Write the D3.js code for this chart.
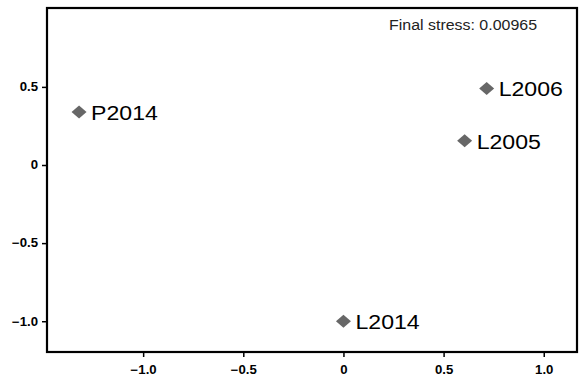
<!DOCTYPE html>
<html lang="en">
<head>
<meta charset="utf-8">
<title>NMDS</title>
<script src="https://cdn.jsdelivr.net/npm/d3@7"></script>
<style>
  body { margin: 0; background: #fff; }
  text { font-family: "Liberation Sans", Arial, sans-serif; }
</style>
</head>
<body>
<script>
// samples and their ordination coordinates
var labels = ["P2014", "L2006", "L2005", "L2014"];
var xVals = [-1.32, 0.715, 0.605, 0.0];
var yVals = [0.34, 0.49, 0.155, -1.0];
var xTicks = [-1.0, -0.5, 0, 0.5, 1.0];
var yTicks = [-1.0, -0.5, 0, 0.5];
var stressText = "Final stress: 0.00965";

var margin = { top: 8, right: 2, bottom: 28, left: 47 },
    width = 579 - margin.left - margin.right,
    height = 380 - margin.top - margin.bottom;

var x = d3.scaleLinear().domain([-1.48, 1.166]).range([0, width]);
var y = d3.scaleLinear().domain([-1.197, 1.005]).range([height, 0]);

// text in the original is a bit wider than the font
var stretch = 1.1;

var svg = d3.select("body").append("svg")
    .attr("width", 579).attr("height", 380)
  .append("g")
    .attr("transform", "translate(" + margin.left + "," + margin.top + ")");

function fmt(d) { return d === 0 ? "0" : d3.format(".1f")(d); }

var xAxis = svg.append("g")
    .attr("transform", "translate(0," + height + ")")
    .call(d3.axisBottom(x).tickValues(xTicks).tickFormat(fmt).tickSize(5).tickSizeOuter(0));
var yAxis = svg.append("g")
    .call(d3.axisLeft(y).tickValues(yTicks).tickFormat(fmt).tickSize(5).tickSizeOuter(0));

[xAxis, yAxis].forEach(function(a) {
  a.select(".domain").remove();
  a.selectAll(".tick line").attr("stroke", "#000").attr("stroke-width", 1.5);
  a.selectAll(".tick text")
    .style("font-family", "'Liberation Sans', Arial, sans-serif")
    .style("font-size", "12px").style("font-weight", "bold").attr("fill", "#000");
});
xAxis.selectAll(".tick text")
    .attr("y", null).attr("dy", null)
    .attr("transform", "translate(0,22) scale(" + stretch + ",1)");
yAxis.selectAll(".tick text")
    .attr("x", null)
    .attr("transform", "translate(-9,0) scale(" + stretch + ",1)");

// frame
svg.append("rect")
    .attr("width", width).attr("height", height)
    .attr("fill", "none").attr("stroke", "#000").attr("stroke-width", 2.2);

var pts = labels.map(function(d, i) { return { label: d, x: xVals[i], y: yVals[i] }; });

svg.selectAll(".pt")
  .data(pts).enter().append("path")
    .attr("class", "pt")
    .attr("d", "M0,-6.5L7.5,0L0,6.5L-7.5,0Z")
    .attr("transform", function(d) { return "translate(" + x(d.x) + "," + y(d.y) + ")"; })
    .attr("fill", "#676767");

svg.selectAll(".lbl")
  .data(pts).enter().append("text")
    .attr("class", "lbl")
    .attr("transform", function(d) {
      return "translate(" + (x(d.x) + 12) + "," + (y(d.y) + 8) + ") scale(" + stretch + ",1)";
    })
    .style("font-size", "21px")
    .attr("fill", "#000")
    .text(function(d) { return d.label; });

svg.append("text")
    .attr("transform", "translate(" + (width - 40) + ",22) scale(" + stretch + ",1)")
    .attr("text-anchor", "end")
    .style("font-size", "14.5px")
    .attr("fill", "#222")
    .text(stressText);
</script>
</body>
</html>
